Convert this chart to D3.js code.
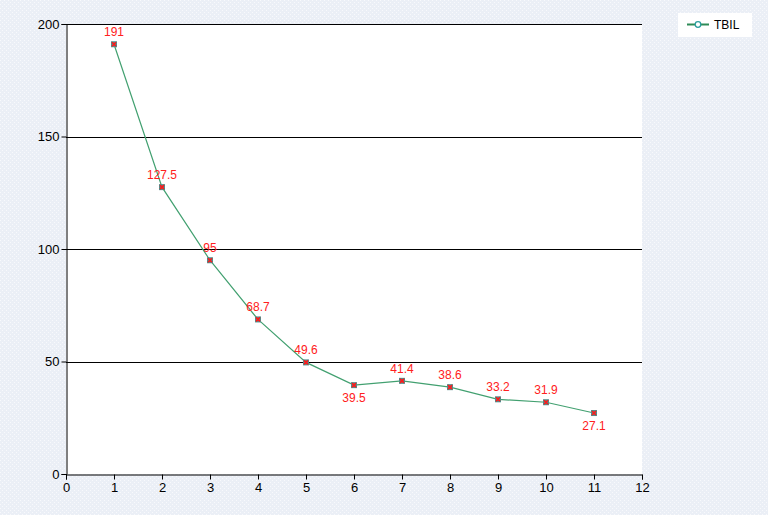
<!DOCTYPE html>
<html><head><meta charset="utf-8">
<script src="https://cdn.jsdelivr.net/npm/d3@7"></script>
<style>body{margin:0;padding:0;overflow:hidden;}svg{display:block;}</style>
</head><body>
<script>
const xValues = [1,2,3,4,5,6,7,8,9,10,11];
const tbil = [191,127.5,95,68.7,49.6,39.5,41.4,38.6,33.2,31.9,27.1];
const labelBelow = [false,false,false,false,false,true,false,false,false,false,true];
const xTicks = [0,1,2,3,4,5,6,7,8,9,10,11,12];
const yTicks = [0,50,100,150,200];
const seriesName = "TBIL";

const W=768,H=515;
const svg=d3.select("body").append("svg").attr("width",W).attr("height",H);
const defs=svg.append("defs");
const pat=defs.append("pattern").attr("id","bg").attr("width",4).attr("height",4).attr("patternUnits","userSpaceOnUse");
pat.append("rect").attr("width",4).attr("height",4).attr("fill","#ebeff6");
pat.append("rect").attr("x",0).attr("y",0).attr("width",1).attr("height",1).attr("fill","#f8f9fc");
pat.append("rect").attr("x",2).attr("y",2).attr("width",1).attr("height",1).attr("fill","#f8f9fc");
svg.append("rect").attr("width",W).attr("height",H).attr("fill","url(#bg)");

const L=66,R=642,T=24,B=474;
const x=d3.scaleLinear().domain([0,12]).range([L,R]);
const y=d3.scaleLinear().domain([0,200]).range([B,T]);

svg.append("rect").attr("x",L).attr("y",T).attr("width",R-L).attr("height",B-T).attr("fill","#fff");

svg.append("g").selectAll("line").data(yTicks.filter(d=>d>0)).join("line")
 .attr("x1",L).attr("x2",R).attr("y1",d=>Math.round(y(d))+0.5).attr("y2",d=>Math.round(y(d))+0.5)
 .attr("stroke","#000").attr("stroke-width",1);

const font="'Liberation Sans', Arial, sans-serif";
const yAxis=svg.append("g").attr("transform",`translate(${L+0.5},0)`)
 .call(d3.axisLeft(y).tickValues(yTicks).tickSize(5).tickPadding(2).tickFormat(d3.format("d")));
const xAxis=svg.append("g").attr("transform",`translate(0,${B+0.5})`)
 .call(d3.axisBottom(x).tickValues(xTicks).tickSize(5).tickPadding(3).tickFormat(d3.format("d")));
[yAxis,xAxis].forEach(a=>{
 a.select(".domain").attr("stroke","#000");
 a.selectAll(".tick line").attr("stroke","#000");
 a.selectAll("text").attr("fill","#000").style("font-family",font).style("font-size","13px");
});

const line=d3.line().x((d,i)=>x(xValues[i])).y(d=>y(d));
svg.append("path").datum(tbil).attr("d",line).attr("fill","none").attr("stroke","#42a070").attr("stroke-width",1.2);

const pts=svg.append("g").selectAll("g").data(tbil).join("g")
 .attr("transform",(d,i)=>`translate(${x(xValues[i])},${y(d)})`);
pts.append("rect").attr("x",-3).attr("y",-3).attr("width",6).attr("height",6).attr("fill","#4f8f8f");
pts.append("path").attr("d","M-2,-2L2,2M-2,2L2,-2").attr("stroke","#ff1a1a").attr("stroke-width",1.6);

svg.append("g").selectAll("text").data(tbil).join("text")
 .attr("x",(d,i)=>x(xValues[i]))
 .attr("y",(d,i)=>labelBelow[i]? y(d)+17 : y(d)-8)
 .attr("text-anchor","middle").attr("fill","#ff2020")
 .style("font-family",font).style("font-size","12px")
 .text(d=>d);

const lg=svg.append("g");
lg.append("rect").attr("x",678).attr("y",13).attr("width",74).attr("height",24).attr("fill","#fff");
lg.append("line").attr("x1",687).attr("x2",709).attr("y1",24.5).attr("y2",24.5).attr("stroke","#2e8b57").attr("stroke-width",2);
lg.append("circle").attr("cx",698).attr("cy",24.5).attr("r",2.8).attr("fill","#fff").attr("stroke","#2a9d9d").attr("stroke-width",1.3);
lg.append("text").attr("x",714).attr("y",29).attr("fill","#000").style("font-family",font).style("font-size","12px").text(seriesName);
</script>
</body></html>
